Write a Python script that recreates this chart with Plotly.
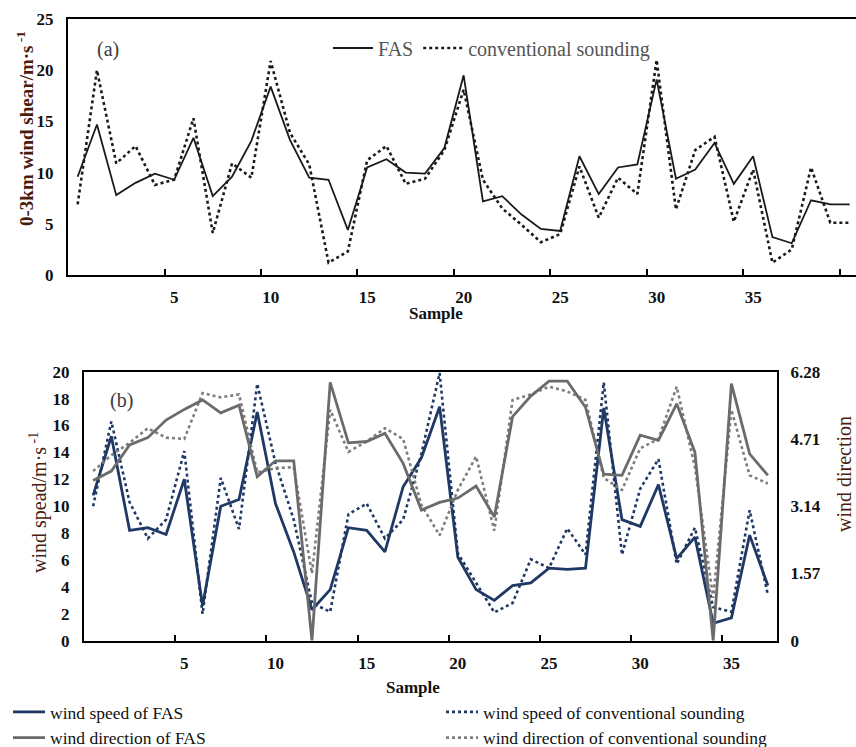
import plotly.graph_objects as go

W, H = 856, 747

# ---- panel (a): 0-3 km wind shear ----
sample_a = list(range(41))
shear_fas = [9.6, 14.7, 7.8, 9.0, 9.9, 9.3, 13.4, 7.7, 9.6, 13.1,
             18.4, 13.2, 9.5, 9.3, 4.4, 10.5, 11.3, 10.0, 9.9, 12.4,
             19.5, 7.2, 7.7, 5.9, 4.5, 4.3, 11.6, 7.9, 10.5, 10.8,
             19.1, 9.4, 10.3, 12.9, 8.9, 11.6, 3.7, 3.1, 7.3, 6.9, 6.9]
shear_cs = [6.9, 20.0, 10.9, 12.6, 8.8, 9.3, 15.3, 4.1, 10.9, 9.5,
            20.9, 13.9, 10.8, 1.2, 2.3, 11.2, 12.6, 8.9, 9.4, 12.2,
            18.1, 9.3, 6.5, 4.9, 3.2, 4.0, 10.6, 5.6, 9.5, 7.9,
            21.0, 6.4, 12.2, 13.5, 5.2, 10.3, 1.2, 2.5, 10.5, 5.1, 5.1]
labels_a = [5, 10, 15, 20, 25, 30, 35, 40]

# ---- panel (b): wind speed (m/s) and wind direction (rad) ----
sample_b = list(range(38))
speed_fas = [10.8, 15.2, 8.2, 8.4, 7.9, 12.0, 2.6, 10.0, 10.5, 17.0,
             10.2, 6.6, 2.3, 3.8, 8.4, 8.2, 6.6, 11.45, 13.6, 17.4,
             6.2, 3.8, 3.0, 4.1, 4.3, 5.4, 5.3, 5.4, 17.3, 9.0,
             8.5, 11.6, 6.1, 7.7, 1.3, 1.7, 7.85, 4.1]
speed_cs = [10.0, 16.3, 10.3, 7.6, 9.0, 14.1, 2.0, 12.1, 8.3, 19.1,
            13.2, 9.0, 2.8, 2.15, 9.4, 10.2, 7.6, 9.0, 13.9, 19.9,
            6.5, 4.3, 2.1, 2.8, 6.05, 5.4, 8.35, 6.4, 19.2, 6.4,
            11.3, 13.5, 5.7, 8.4, 2.5, 2.15, 9.7, 3.4]
dir_fas = [3.74, 3.96, 4.57, 4.74, 5.15, 5.40, 5.62, 5.32, 5.50, 3.83,
           4.20, 4.20, 0.0, 6.03, 4.62, 4.65, 4.84, 4.14, 3.05, 3.23,
           3.33, 3.61, 2.89, 5.23, 5.71, 6.06, 6.06, 5.45, 3.89, 3.86,
           4.80, 4.68, 5.53, 4.40, 0.0, 6.00, 4.36, 3.86]
dir_cs = [3.96, 4.33, 4.62, 4.96, 4.74, 4.71, 5.78, 5.68, 5.75, 3.93,
          4.03, 4.05, 1.57, 5.39, 4.41, 4.65, 4.96, 4.71, 3.17, 2.46,
          3.52, 4.30, 2.57, 5.62, 5.75, 5.93, 5.82, 5.62, 3.80, 3.52,
          4.49, 4.71, 5.93, 4.05, 1.00, 5.39, 3.86, 3.67]
labels_b = [5, 10, 15, 20, 25, 30, 35]
dir_ticks = [0, 1.57, 3.14, 4.71, 6.28]
dir_ticktext = ["0", "1.57", "3.14", "4.71", "6.28"]

SERIF = "Liberation Serif"
INK = "#111111"
BROWN = "#4a1c10"
BLUE = "#1f3864"
GREY = "#6b6b6b"


def px(x):
    return x / W


def py(y):
    return 1 - y / H


fig = go.Figure()

fig.add_trace(go.Scatter(x=sample_a, y=shear_fas, mode="lines", name="FAS",
                         line=dict(color="#1a1a1a", width=1.8),
                         xaxis="x", yaxis="y", legend="legend"))
fig.add_trace(go.Scatter(x=sample_a, y=shear_cs, mode="lines",
                         name="conventional sounding",
                         line=dict(color="#1a1a1a", width=2.6, dash="dot"),
                         xaxis="x", yaxis="y", legend="legend"))

# left legend column: FAS series; right column: conventional sounding
fig.add_trace(go.Scatter(x=sample_b, y=speed_cs, mode="lines",
                         name="wind speed of conventional sounding",
                         line=dict(color=BLUE, width=2.6, dash="dot"),
                         xaxis="x2", yaxis="y2", legend="legend3", legendrank=1))
fig.add_trace(go.Scatter(x=sample_b, y=speed_fas, mode="lines",
                         name="wind speed of FAS",
                         line=dict(color=BLUE, width=2.8),
                         xaxis="x2", yaxis="y2", legend="legend2", legendrank=1))
fig.add_trace(go.Scatter(x=sample_b, y=dir_cs, mode="lines",
                         name="wind direction of conventional sounding",
                         line=dict(color="#7d7d7d", width=2.6, dash="dot"),
                         xaxis="x2", yaxis="y3", legend="legend3", legendrank=2))
fig.add_trace(go.Scatter(x=sample_b, y=dir_fas, mode="lines",
                         name="wind direction of FAS",
                         line=dict(color=GREY, width=2.8),
                         xaxis="x2", yaxis="y3", legend="legend2", legendrank=2))

tickfont = dict(family=SERIF, size=17, color=INK, weight="bold")
axis_common = dict(showgrid=False, zeroline=False, showline=True,
                   linecolor="#000000", linewidth=2, fixedrange=True)


def category_ticks(labels):
    # labels sit on the category, tick marks sit between categories
    return dict(tickmode="array", tickvals=labels,
                ticktext=[str(v) for v in labels], ticks="",
                minor=dict(tickmode="array", tickvals=[v - 0.5 for v in labels],
                           ticks="inside", ticklen=6, tickwidth=1.5,
                           tickcolor="#000000"))


legend_b = dict(orientation="v", yanchor="top", xanchor="left",
                bgcolor="rgba(0,0,0,0)", itemwidth=32, tracegroupgap=0,
                font=dict(family=SERIF, size=17.5, color=INK),
                traceorder="normal", itemclick=False, itemdoubleclick=False)

fig.update_layout(
    width=W, height=H,
    margin=dict(l=0, r=0, t=0, b=0, autoexpand=False),
    paper_bgcolor="white", plot_bgcolor="white",
    font=dict(family=SERIF, color=INK),
    xaxis=dict(domain=[px(68), 1], range=[-0.5, 40.33], anchor="y",
               mirror=True, tickfont=tickfont, ticklabelstandoff=6,
               **category_ticks(labels_a), **axis_common),
    yaxis=dict(domain=[py(275), py(19)], range=[0, 25], anchor="x",
               tickmode="linear", tick0=0, dtick=5, ticks="",
               tickfont=tickfont, ticklabelstandoff=9, **axis_common),
    xaxis2=dict(domain=[px(84), px(777)], range=[-0.5, 37.5], anchor="y2",
                mirror=True, tickfont=tickfont, ticklabelstandoff=6,
                **category_ticks(labels_b), **axis_common),
    yaxis2=dict(domain=[py(640.7), py(371.7)], range=[0, 20], anchor="x2",
                tickmode="linear", tick0=0, dtick=2, ticks="",
                tickfont=tickfont, ticklabelstandoff=9, **axis_common),
    yaxis3=dict(overlaying="y2", side="right", anchor="x2", range=[0, 6.28],
                tickmode="array", tickvals=dir_ticks, ticktext=dir_ticktext,
                ticks="", tickfont=tickfont, ticklabelstandoff=8,
                **axis_common),
    legend=dict(orientation="h", x=px(328), y=py(48), xanchor="left",
                yanchor="middle", bgcolor="rgba(0,0,0,0)", itemwidth=40,
                font=dict(family=SERIF, size=20, color="#555555"),
                traceorder="normal", itemclick=False, itemdoubleclick=False),
    legend2=dict(x=px(8), y=py(694), **legend_b),
    legend3=dict(x=px(441), y=py(694), **legend_b),
    showlegend=True,
)

annotations = [
    dict(text="(a)", x=px(108), y=py(50), font=dict(size=20, color="#3a3a3a")),
    dict(text="(b)", x=px(122), y=py(400), font=dict(size=20, color="#3a3a3a")),
    dict(text="Sample", x=px(436), y=py(313),
         font=dict(size=17, color=INK, weight="bold")),
    dict(text="Sample", x=px(413), y=py(687),
         font=dict(size=17, color=INK, weight="bold")),
    dict(text="0-3km wind shear/m·s<sup> -1</sup>", x=px(25), y=py(129),
         textangle=-90, font=dict(size=19, color=BROWN, weight="bold")),
    dict(text="wind spead/m·s<sup> -1</sup>", x=px(38), y=py(503),
         textangle=-90, font=dict(size=20, color=BROWN)),
    dict(text="wind direction", x=px(844), y=py(474),
         textangle=-90, font=dict(size=20, color=BROWN)),
]
for a in annotations:
    a.update(xref="paper", yref="paper", showarrow=False,
             xanchor="center", yanchor="middle")
    a["font"].setdefault("family", SERIF)
fig.update_layout(annotations=annotations)

fig.write_html("out.html", config={"displayModeBar": False})
